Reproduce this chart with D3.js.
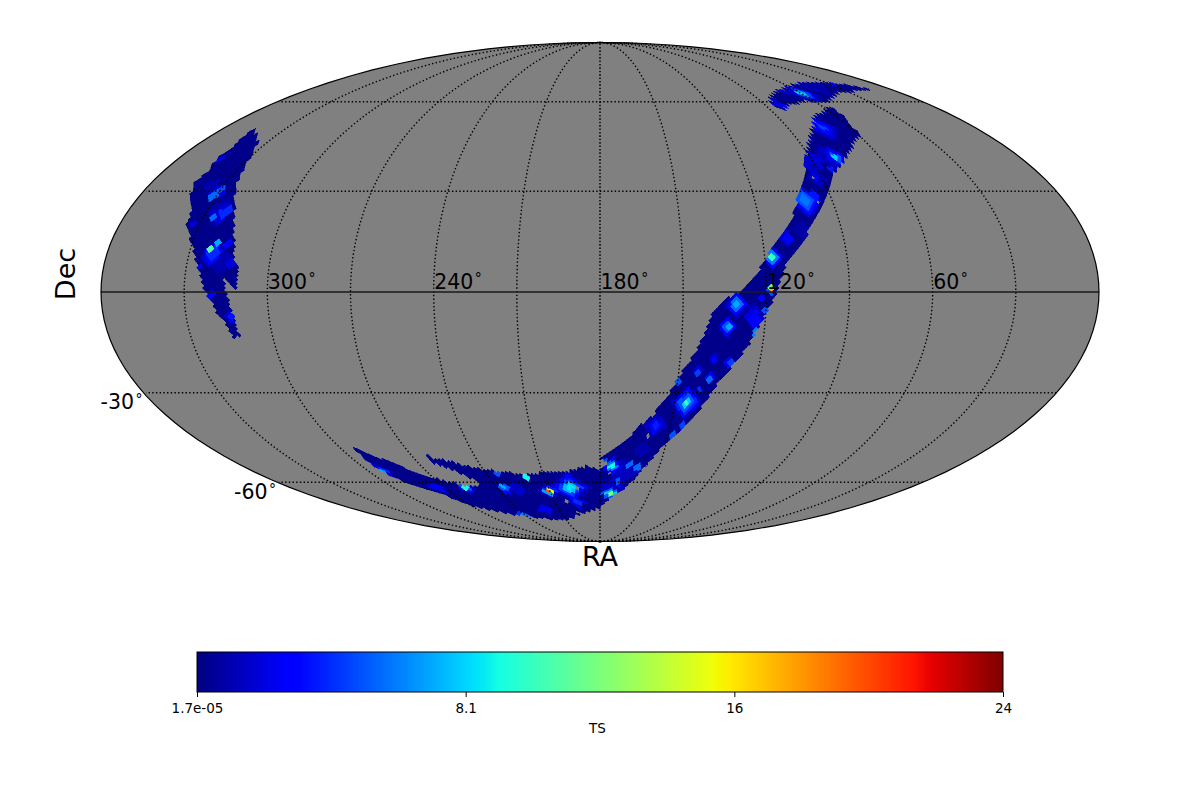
<!DOCTYPE html>
<html>
<head>
<meta charset="utf-8">
<title>TS sky map</title>
<script src="https://cdn.jsdelivr.net/npm/d3@7/dist/d3.min.js"></script>
<style>
  html, body { margin: 0; padding: 0; background: #fff; }
  text { font-family: "DejaVu Sans", sans-serif; fill: #000; }
</style>
</head>
<body>
<svg id="chart" width="1200" height="800"></svg>
<script>
// Sky coverage outlines, as [RA, Dec] in degrees.
const footprintWest = [
  [345.5,51],[344.8,48.8],[342.8,44.7],[343.5,40.5],[341.2,35.9],[342.9,33.4],[341,30.3],[339.6,28.1],
  [335.5,23.3],[335,20.3],[330.3,14.65],[328.3,11.4],[325.3,6.4],[322.7,0.6],[320.5,-2.3],[318.8,-5.8],
  [316.3,-9.1],[314.2,-13.6],[312.1,-13],[312.6,-7.6],[314.2,-2.3],[316.1,4.1],[311.4,0.9],[310.9,6.4],
  [313.1,9.4],[314.9,15.2],[317.4,20.3],[319.4,24.2],[323.4,29.4],[326.4,34],[328.8,39.1],[334,45.4]
];
const footprintNorth = [
  [84.7,59.9],[77.7,63.2],[63,65.7],[46,67.5],[28.4,67.5],[21,66.6],[12.5,65],[27.5,64],
  [36,63.6],[47,61.6],[54.5,59.9],[64.3,60.6],[77,58.8],[83,57],[86,58]
];
const footprintMain = [
  [57,58.3],[72.4,53.9],[83.4,47.4],[89,43],[93,39.8],[95.3,36.5],[98.6,32.5],[103,28.1],[105.1,25.1],
  [108.6,20.3],[112.5,17.3],[116.5,13.2],[120,9.4],[123.2,5.5],[129.5,0],[135.6,-2.3],[139.1,-6.1],
  [141.6,-12],[144,-17],[147.2,-21.5],[150,-25.4],[152.4,-30],[158.3,-37.5],[162.9,-40.2],[166.7,-44],
  [172.1,-47.8],[179.5,-51.2],[176,-53.6],[180,-55.4],[186.5,-54],[197.2,-56.1],[210,-56.5],[215.9,-57.3],
  [229,-56.5],[240.4,-55.4],[245.7,-54.3],[253.5,-52.6],[261.2,-51.2],[264.5,-49],[262,-52.9],
  [255.9,-55.4],[249.9,-58.4],[245.9,-61],[255,-61.7],[264.5,-59.9],[274.9,-57.3],[281.5,-53.6],[289,-50.2],
  [292.7,-47.4],[293.7,-48.1],[294.2,-51.2],[293.3,-56.1],[288.7,-59.9],[277.6,-64],[270.8,-69],[253.5,-72.6],
  [231,-75.2],[208.7,-75.6],[196,-73.4],[182,-70.5],[178,-69],[173.5,-66],[166.4,-62.9],[161,-58.4],
  [155.5,-51.9],[150,-46],[144.2,-40.8],[140,-36.2],[136,-30],[133,-25.1],[128.2,-20],[125,-15],[121,-8.2],
  [118,-3.2],[116,0.6],[113,7.3],[108,12.3],[103,17.3],[97,23.3],[92.5,28.1],[86.4,34.3],[82.1,36.5],
  [76.5,39.8],[69,44],[58.3,48.8],[59,52.2],[54.2,57.7]
];
// Small gaps in coverage, as [RA, Dec].
const coverageGaps = [
  [192.9,-62.5],[201.8,-67.5],[195.8,-72.6],[159,-44],[174.7,-56.5],[93,34.3],[95.5,26.6]
];

// Excess patches, as [RA, Dec, extent in degrees, TS]; the highest TS covering a cell wins.
const tsSpotsWest = [
  [322.7,12.6,1,11],[320.6,14.1,1.2,7],[321.3,11.7,2,4],[321.3,11.7,3,2.8],[322.3,10.2,2.6,1.8],[319,10,4,0.9],
  [331.3,28.5,1.4,5.5],[330,30.3,1.1,5],[330.5,29.4,2.2,2],
  [326.3,22.1,1.4,5.5],[322.5,23.6,2.1,4],[323.6,23.3,2.8,1.8],[325,24,4,0.9],
  [314,-7.3,1.1,3.5],[314,-7.3,1.9,1.6],[320.4,-0.9,1.4,3],[316.9,14.4,1.2,2.7],[314,8.5,1.6,2],
  [341.9,39.8,1.2,2],[317.2,8.5,2.4,1],[332.6,19.7,1.2,1.8],[325.4,7.3,1,3],[334.8,31.9,2.2,1]
];
const tsSpotsNorth = [
  [59.4,63.2,1,8],[59.4,63.2,1.8,4.5],[59.4,63.2,3.2,1.6],[82.1,58.8,1.4,2.2],[68.4,64,1.1,1.8],[29.2,67,1.1,3],
  [45,66,3,0.9]
];
const tsSpotsUpperArm = [
  [73.5,50.8,1.1,4.5],[73.5,50.8,2.5,3],[73.5,50.8,3.8,1.4],
  [79.1,40.8,1,8],[79.1,40.8,1.4,5],[79.1,40.8,2.6,2.5],[84,36.9,1,3.5],
  [82.2,40.8,3.4,1.4],[91.2,38.1,3,1.5],[92,34,2.8,1.2],
  [100.7,27.2,1.6,5.8],[100.7,27.2,2.8,5],[96.1,28.8,1.8,3.5],[100.7,27.2,3.6,3.2],[100.7,27.2,4.4,2],[93.3,34.3,1,3],
  [110.6,15.8,1.4,3],[110.6,15.8,2.2,1.8],[104.5,18.2,2.6,0.8],
  [117.4,10.2,1,10],[117.4,10.2,1.8,6],[117.4,10.2,2.8,3],[117.4,10.2,3.4,1.3],
  [118.3,0.9,0.6,18],[118.3,0.9,1,12],[118.3,0.9,1.4,5],[89.1,40.5,2.4,1.8]
];
const tsSpotsLowerArm = [
  [130.5,-3.8,1.1,7],[130.5,-3.8,2.1,5.5],[130.5,-3.8,3,3],[130.5,-3.8,3.6,1.3],
  [133.4,-10.2,1,7],[133.4,-10.2,1.8,5],[133.4,-10.2,2.4,2.8],[133.4,-10.2,3,1.1],
  [123.7,-8.2,2.4,2.6],[123.4,-11.7,1.1,6],[121.5,-1.5,1.1,3],[120.3,-5.3,1,5],[125.6,-6.7,1.8,2.2],[124,-7,3.4,1.2],
  [137.2,-20,1.1,2.7],[137.2,-20,1.6,1.3],[131.1,-20.9,1.1,4.5],[131.1,-20.9,1.6,2.4],
  [142.7,-23.9,1.1,4.5],[142.7,-23.9,1.6,1.8],[138,-25.7,1.1,5.5],[138,-25.7,1.6,2.4],
  [145.3,-33.1,1,10],[145.3,-33.1,1.4,8],[145.3,-33.1,2.5,5],[145.3,-33.1,3.2,3.8],[145.3,-33.1,3.9,2.8],[145.3,-33.1,4.5,1.4],
  [156.4,-40.5,1.1,3.7],[156.4,-40.5,2,2.6],[156.4,-40.5,3.4,1.3],
  [144.5,-40.2,1.1,4.5],[148.1,-43.7,1.1,5],[149.9,-26.6,1,5],[140.8,-29.1,0.8,4],
  [174,-54.3,1,9],[174,-54.3,1.4,6],[174,-54.3,2.6,2.8],[165.5,-53.6,1.1,5.5],[160.6,-54.7,1.1,5.5],[177.1,-52.6,1,5],
  [173.8,-64.4,0.8,12],[173.8,-64.4,1.2,8],[173.8,-64.4,2.1,5],[170,-59.9,1,5],[160.4,-48.5,2.4,1],
  [168,-56,3.8,1.3],[172,-62,3.4,1.4]
];
const tsSpotsSouth = [
  [293,-55.8,1,7],[293,-55.8,1.4,4],[293,-55.8,2.4,1.6],[258,-62.1,1,9],[258,-62.1,1.4,5],[258,-62.1,2.2,1.8],[274.9,-62.1,1.6,2.4],
  [236,-61.7,1,7],[236,-61.7,1.4,5],[233.8,-56.5,1,5],[236,-64,1.1,3],
  [220,-58.4,1,9],[220,-58.4,1.2,6],
  [210.7,-63.6,0.6,20],[210.7,-63.6,0.9,15],[210.7,-63.6,1.3,7],[210.7,-63.6,1.8,4],[210.7,-63.6,2.3,1.8],
  [197.5,-62.1,1.1,8.5],[197.5,-62.1,1.8,7.5],[197.5,-62.1,2.8,4.5],[197.5,-62.1,3.5,3.2],[197.5,-62.1,4,2.4],[197.5,-62.1,4.8,1.3],
  [241.5,-73.9,1,6],[241.5,-73.9,1.4,4],[195.2,-67.9,1.1,4],[195.2,-67.9,2,2],[220.3,-71.3,1.6,2.2],[229,-62.9,2.4,1.5]
];

const backgroundTS = 0.25;
const tsMin = 1.7e-5;
const tsMax = 24.3;
const colorbarTicks = [1.7e-5, 8.1, 16.2, 24.3];
const colorbarTickLabels = ["1.7e-05", "8.1", "16", "24"];
const raLabels = [300, 240, 180, 120, 60];
const decLabels = [-30, -60];
const raLines = d3.range(30, 360, 30);
const decLines = [-60, -30, 30, 60];

// Jet colormap channels.
const jetR = d3.scaleLinear().domain([0, 0.35, 0.66, 0.89, 1]).range([0, 0, 1, 1, 0.5]);
const jetG = d3.scaleLinear().domain([0, 0.125, 0.375, 0.64, 0.91, 1]).range([0, 0, 1, 1, 0, 0]);
const jetB = d3.scaleLinear().domain([0, 0.11, 0.34, 0.65, 1]).range([0.5, 1, 1, 0, 0]);
const jet = t => `rgb(${Math.round(jetR(t) * 255)},${Math.round(jetG(t) * 255)},${Math.round(jetB(t) * 255)})`;
const tsNorm = d3.scaleLinear().domain([tsMin, tsMax]).clamp(true);

// Mollweide projection as a raw d3 projection.
function mollweideRaw(lambda, phi) {
  let theta = phi;
  const target = Math.PI * Math.sin(phi);
  if (Math.abs(Math.abs(phi) - Math.PI / 2) < 1e-6) {
    theta = Math.sign(phi) * Math.PI / 2;
  } else {
    for (let i = 0; i < 30; i++) {
      const d = (2 * theta + Math.sin(2 * theta) - target) / (2 + 2 * Math.cos(2 * theta));
      theta -= d;
      if (Math.abs(d) < 1e-8) break;
    }
  }
  return [2 * Math.SQRT2 / Math.PI * lambda * Math.cos(theta), Math.SQRT2 * Math.sin(theta)];
}

const cx = 600, cy = 292, halfWidth = 499;
const projection = d3.geoProjection(mollweideRaw)
  .scale(halfWidth / (2 * Math.SQRT2))
  .translate([cx, cy])
  .precision(0.2);
const skyXY = (ra, dec) => projection([180 - ra, dec]);
const geoPath = d3.geoPath(projection);

const svg = d3.select("#chart");

// Sky disc.
svg.append("path")
  .datum({ type: "Sphere" })
  .attr("d", geoPath)
  .attr("fill", "#808080");

// HEALPix cells (nside 64) whose centres fall in the coverage outlines.
const nside = 64;
const h = Math.PI / (4 * nside);
function planeToSky(x, y) {
  const ay = Math.abs(y);
  let lon = x, z;
  if (ay <= Math.PI / 4) {
    z = 8 / (3 * Math.PI) * y;
  } else {
    const k = Math.floor(x / (Math.PI / 2));
    const xc = Math.PI / 4 + k * Math.PI / 2;
    const gap = Math.max(Math.PI / 2 - ay, 1e-9);
    lon = x + (x - xc) * (ay - Math.PI / 4) / gap;
    const w = 2 - 4 * ay / Math.PI;
    z = Math.sign(y) * (1 - w * w / 3);
  }
  return [lon * 180 / Math.PI, Math.asin(z) * 180 / Math.PI];
}
const footprints = [footprintWest, footprintNorth, footprintMain];
const allSpots = [...tsSpotsWest, ...tsSpotsNorth, ...tsSpotsUpperArm, ...tsSpotsLowerArm, ...tsSpotsSouth];

function cellTS(ra, dec) {
  let best = backgroundTS;
  for (const [sra, sdec, ext, ts] of allSpots) {
    if (ts <= best) continue;
    const dx = Math.abs(ra - sra) * Math.cos(sdec * Math.PI / 180);
    const dy = Math.abs(dec - sdec);
    if (dx + dy <= ext * 1.2) best = ts;
  }
  return best;
}
const inGap = (ra, dec) => coverageGaps.some(([gra, gdec]) =>
  Math.hypot((ra - gra) * Math.cos(gdec * Math.PI / 180), dec - gdec) < 0.6);

const cells = [];
for (let j = -(2 * nside - 1); j <= 2 * nside - 1; j++) {
  const y = j * h;
  for (let i = 0; i < 8 * nside; i++) {
    if (((i + j) % 2 + 2) % 2 !== 1) continue;
    const x = i * h;
    if (Math.abs(y) > Math.PI / 4) {
      const k = Math.floor(x / (Math.PI / 2));
      const xc = Math.PI / 4 + k * Math.PI / 2;
      if (Math.abs(x - xc) >= Math.PI / 2 - Math.abs(y) - 1e-9) continue;
    }
    const [ra, dec] = planeToSky(x, y);
    if (!footprints.some(poly => d3.polygonContains(poly, [ra, dec]))) continue;
    if (inGap(ra, dec)) continue;
    const corners = [[x + h, y], [x, y + h], [x - h, y], [x, y - h]].map(c => planeToSky(c[0], c[1]));
    cells.push({ ts: cellTS(ra, dec), corners });
  }
}

svg.append("g")
  .attr("class", "cells")
  .attr("shape-rendering", "crispEdges")
  .selectAll("polygon")
  .data(cells.sort((a, b) => d3.ascending(a.ts, b.ts)))
  .join("polygon")
  .attr("points", d => d.corners.map(c => skyXY(c[0], c[1]).map(v => v.toFixed(2)).join(",")).join(" "))
  .attr("fill", d => jet(tsNorm(d.ts)))
  .attr("stroke", d => jet(tsNorm(d.ts)))
  .attr("stroke-width", 0.5);

// Graticule: dotted meridians and parallels, solid equator.
const graticule = svg.append("g").attr("fill", "none").attr("stroke", "#000");
const lineFn = d3.line();
graticule.selectAll("path.meridian")
  .data(raLines)
  .join("path")
  .attr("class", "meridian")
  .attr("d", ra => lineFn(d3.range(-90, 90.5, 1).map(dec => skyXY(ra, dec))))
  .attr("stroke-width", 1.4)
  .attr("stroke-dasharray", ra => ra === 180 ? "1.6 1.8" : "1.4 2.3");
graticule.selectAll("path.parallel")
  .data(decLines)
  .join("path")
  .attr("class", "parallel")
  .attr("d", dec => lineFn(d3.range(0.01, 360, 1).map(ra => skyXY(ra, dec))))
  .attr("stroke-width", 1.4)
  .attr("stroke-dasharray", "1.4 2.3");
graticule.append("path")
  .attr("d", lineFn([0.01, 90, 180, 270, 359.99].map(ra => skyXY(ra, 0))))
  .attr("stroke", "#1a1a1a")
  .attr("stroke-width", 1.7);

// Sky disc edge.
svg.append("path")
  .datum({ type: "Sphere" })
  .attr("d", geoPath)
  .attr("fill", "none")
  .attr("stroke", "#000")
  .attr("stroke-width", 1.2);

// Coordinate labels with a raised degree ring.
function degreeLabel(sel, rise) {
  sel.attr("font-size", 20.5)
    .each(function (d) {
      const t = d3.select(this);
      t.append("tspan").text(d);
      t.append("tspan").attr("font-size", 14).attr("dx", 1.5).attr("dy", rise).text("\u00b0");
    });
}
svg.append("g").selectAll("text")
  .data(raLabels)
  .join("text")
  .attr("x", ra => skyXY(ra, 0)[0] + 0.5)
  .attr("y", cy - 3.5)
  .attr("text-anchor", "start")
  .call(degreeLabel, -6);
svg.append("g").selectAll("text")
  .data(decLabels)
  .join("text")
  .attr("x", dec => skyXY(359.99, dec)[0] - 1)
  .attr("y", dec => skyXY(359.99, dec)[1] + 16.5)
  .attr("text-anchor", "end")
  .call(degreeLabel, -5);

svg.append("text")
  .attr("x", cx).attr("y", 566)
  .attr("text-anchor", "middle")
  .attr("font-size", 27)
  .text("RA");
svg.append("text")
  .attr("transform", "translate(75,274) rotate(-90)")
  .attr("text-anchor", "middle")
  .attr("font-size", 27)
  .text("Dec");

// Colour bar.
const barLeft = 197, barRight = 1003, barTop = 652, barBottom = 692;
const barScale = d3.scaleLinear().domain([tsMin, tsMax]).range([barLeft, barRight]);
const barSteps = d3.range(256);
const barStepValue = d3.scaleLinear().domain([0, 256]).range([tsMin, tsMax]);
svg.append("g")
  .attr("shape-rendering", "crispEdges")
  .selectAll("rect")
  .data(barSteps)
  .join("rect")
  .attr("x", i => barScale(barStepValue(i)))
  .attr("y", barTop)
  .attr("width", i => barScale(barStepValue(i + 1)) - barScale(barStepValue(i)))
  .attr("height", barBottom - barTop)
  .attr("fill", i => jet((i + 0.5) / 256));
svg.append("rect")
  .attr("x", barLeft).attr("y", barTop)
  .attr("width", barRight - barLeft).attr("height", barBottom - barTop)
  .attr("fill", "none").attr("stroke", "#000").attr("stroke-width", 1);

const barAxis = d3.axisBottom(barScale)
  .tickValues(colorbarTicks)
  .tickFormat((d, i) => colorbarTickLabels[i])
  .tickSize(5)
  .tickPadding(6.5);
const barAxisG = svg.append("g")
  .attr("transform", `translate(0,${barBottom})`)
  .call(barAxis);
barAxisG.select(".domain").remove();
barAxisG.selectAll("text").attr("font-size", 13.5).attr("font-family", '"DejaVu Sans", sans-serif');
barAxisG.selectAll("line").attr("stroke", "#000");

svg.append("text")
  .attr("x", 597.5).attr("y", 733)
  .attr("text-anchor", "middle")
  .attr("font-size", 13.5)
  .text("TS");
</script>
</body>
</html>
